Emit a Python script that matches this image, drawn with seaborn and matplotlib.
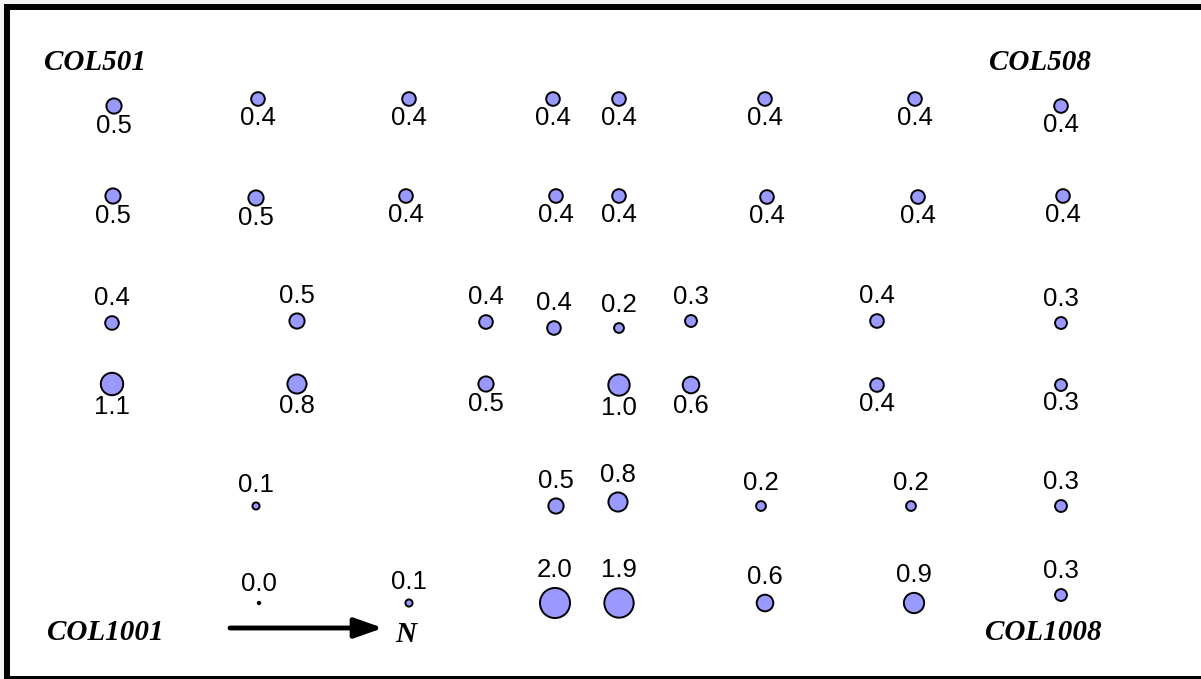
import matplotlib
matplotlib.use("Agg")
import matplotlib.pyplot as plt
import seaborn as sns
import pandas as pd
from matplotlib.patches import Rectangle

# ---- data (map positions in picture units, values, label side) ----
x_pos = [114, 258, 409, 553, 619, 765, 915, 1061,
         113, 256, 406, 556, 619, 767, 918, 1063,
         112, 297, 486, 554, 619, 691, 877, 1061,
         112, 297, 486, 619, 691, 877, 1061,
         256, 556, 618, 761, 911, 1061,
         259, 409, 555, 619, 765, 914, 1061]
y_pos = [106, 99, 99, 99, 99, 99, 99, 106,
         196, 198, 196, 196, 196, 197, 197, 196,
         323, 321, 322, 328, 328, 321, 321, 323,
         384, 384, 384, 385, 385, 385, 385,
         506, 506, 502, 506, 506, 506,
         603, 603, 603, 603, 603, 603, 595]
values = [0.5, 0.4, 0.4, 0.4, 0.4, 0.4, 0.4, 0.4,
          0.5, 0.5, 0.4, 0.4, 0.4, 0.4, 0.4, 0.4,
          0.4, 0.5, 0.4, 0.4, 0.2, 0.3, 0.4, 0.3,
          1.1, 0.8, 0.5, 1.0, 0.6, 0.4, 0.3,
          0.1, 0.5, 0.8, 0.2, 0.2, 0.3,
          0.0, 0.1, 2.0, 1.9, 0.6, 0.9, 0.3]
label_side = (["below"] * 16 + ["above"] * 8 + ["below"] * 7
              + ["above"] * 6 + ["above"] * 7)
corner_names = ["COL501", "COL508", "COL1001", "COL1008"]
corner_x = [95, 1040, 105, 1043]
corner_y = [62, 62, 632, 632]

df = pd.DataFrame({"x": x_pos, "y": y_pos, "v": values, "side": label_side})

W, H = 1201, 679
fig = plt.figure(figsize=(W / 100, H / 100), dpi=100, facecolor="#f2f2f2")
ax = fig.add_axes([0, 0, 1, 1])
ax.set_xlim(0, W)
ax.set_ylim(H, 0)
ax.axis("off")

# white framed panel (right edge falls outside the picture)
ax.add_patch(Rectangle((7, 7), 1220, 672, facecolor="white", edgecolor="black",
                       linewidth=4.3, zorder=0, clip_on=False))

size_min, size_max = 3.0, 470.0
sns.scatterplot(data=df, x="x", y="y", size="v", sizes=(size_min, size_max),
                size_norm=(0, 2), color="#9999ff", edgecolor="black",
                linewidth=1.4, legend=False, ax=ax, zorder=3)

num_font = ["Liberation Sans", "DejaVu Sans"]
for _, r in df.iterrows():
    s = size_min + (size_max - size_min) * r.v / 2.0
    rad_pt = (s ** 0.5) / 2 + 0.7
    if r.side == "above":
        ax.annotate(f"{r.v:.1f}", (r.x, r.y), xytext=(0, rad_pt + 3.5),
                    textcoords="offset points", ha="center", va="bottom",
                    fontsize=18.5, family=num_font, zorder=4)
    else:
        ax.annotate(f"{r.v:.1f}", (r.x, r.y), xytext=(0, -(rad_pt - 0.5)),
                    textcoords="offset points", ha="center", va="top",
                    fontsize=18.5, family=num_font, zorder=4)

serif = ["Liberation Serif", "DejaVu Serif"]
for name, cx, cy in zip(corner_names, corner_x, corner_y):
    ax.text(cx, cy, name, ha="center", va="center", fontsize=21,
            family=serif, fontweight="bold", fontstyle="italic")

# north arrow
ax.annotate("", xy=(383, 628), xytext=(230, 628),
            arrowprops=dict(arrowstyle="-|>,head_length=1.7,head_width=0.6",
                            color="black", lw=3.5, shrinkA=0, shrinkB=0))
ax.text(406, 635, "N", ha="center", va="center", fontsize=21,
        family=serif, fontweight="bold", fontstyle="italic")

fig.savefig("out.png", dpi=100, facecolor=fig.get_facecolor())
